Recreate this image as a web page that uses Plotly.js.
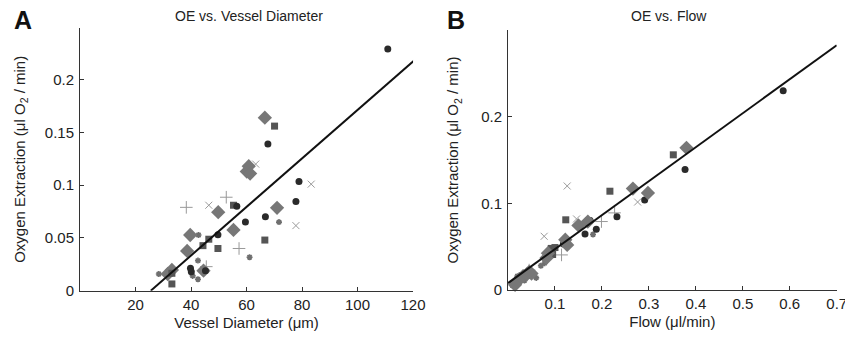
<!DOCTYPE html>
<html>
<head>
<meta charset="utf-8">
<script src="https://cdn.plot.ly/plotly-3.0.1.min.js"></script>
<style>html,body{margin:0;padding:0;background:#fff;}#chart{width:845px;height:339px;}</style>
</head>
<body>
<div id="chart"></div>
<script>
// ---------- Panel A: OE vs. Vessel Diameter ----------
const aCircleX = [110.9, 67.7, 78.9, 77.8, 66.8, 59.6, 49.7, 56.5, 39.8, 40.1, 45.2];
const aCircleY = [0.229, 0.139, 0.1035, 0.0845, 0.070, 0.065, 0.053, 0.080, 0.0212, 0.018, 0.019];
const aSquareX = [70.1, 55.3, 66.6, 49.7, 44.3, 46.4, 33.1, 33.1];
const aSquareY = [0.156, 0.081, 0.048, 0.040, 0.0427, 0.0488, 0.0064, 0.0165];
const aDiamondX = [66.6, 60.8, 60.1, 61.3, 49.8, 55.3, 71.0, 39.7, 38.6, 44.5, 31.6, 33.1];
const aDiamondY = [0.164, 0.118, 0.113, 0.111, 0.0744, 0.0576, 0.0785, 0.0528, 0.0377, 0.019, 0.0158, 0.0196];
const aCrossX = [63.3, 46.4, 83.3, 77.8];
const aCrossY = [0.120, 0.081, 0.101, 0.0617];
const aPlusX = [38.3, 52.7, 57.3, 45.5];
const aPlusY = [0.079, 0.0886, 0.040, 0.0228];
const aStarX = [71.7, 61.1, 42.7, 42.5, 42.5, 28.4, 40.6];
const aStarY = [0.065, 0.0317, 0.0528, 0.0285, 0.0108, 0.0158, 0.014];
const aFitSlope = 0.0023;      // ul O2/min per um
const aFitXIntercept = 25.5;   // um
const aFitXEnd = 120.5;

// ---------- Panel B: OE vs. Flow ----------
const bCircleX = [0.586, 0.377, 0.291, 0.232, 0.188, 0.164, 0.175, 0.118, 0.042, 0.048, 0.036];
const bCircleY = [0.230, 0.139, 0.104, 0.0846, 0.070, 0.0645, 0.080, 0.053, 0.019, 0.017, 0.016];
const bSquareX = [0.352, 0.217, 0.123, 0.172, 0.092, 0.100, 0.095, 0.012, 0.030];
const bSquareY = [0.156, 0.114, 0.081, 0.080, 0.048, 0.049, 0.041, 0.0066, 0.0165];
const bDiamondX = [0.380, 0.266, 0.298, 0.150, 0.170, 0.122, 0.126, 0.085, 0.082, 0.050, 0.032, 0.023, 0.040, 0.015, 0.045];
const bDiamondY = [0.164, 0.117, 0.112, 0.0745, 0.079, 0.058, 0.052, 0.0425, 0.037, 0.019, 0.016, 0.0116, 0.018, 0.006, 0.021];
const bCrossX = [0.126, 0.276, 0.146, 0.077];
const bCrossY = [0.120, 0.1015, 0.082, 0.062];
const bPlusX = [0.199, 0.227, 0.114, 0.045];
const bPlusY = [0.079, 0.089, 0.0405, 0.023];
const bStarX = [0.181, 0.078, 0.120, 0.070, 0.035, 0.020, 0.060];
const bStarY = [0.064, 0.031, 0.053, 0.028, 0.011, 0.016, 0.014];
const bFitSlope = 0.392;
const bFitIntercept = 0.008;
const bFitXEnd = 0.7;

const xTicksA = [20, 40, 60, 80, 100, 120];
const yTicksA = [0, 0.05, 0.1, 0.15, 0.2];
const yTickTextA = ['0', '0.05', '0.1', '0.15', '0.2'];
const xTicksB = [0.1, 0.2, 0.3, 0.4, 0.5, 0.6, 0.7];
const xTickTextB = ['0.1', '0.2', '0.3', '0.4', '0.5', '0.6', '0.7'];
const yTicksB = [0, 0.1, 0.2];
const yTickTextB = ['0', '0.1', '0.2'];

const FONT = 'Liberation Sans, Arial, Helvetica, sans-serif';

function markerTrace(x, y, xa, ya, marker) {
  return {x: x, y: y, xaxis: xa, yaxis: ya, type: 'scatter', mode: 'markers',
          cliponaxis: false, showlegend: false, hoverinfo: 'skip', marker: marker};
}
const mCircle = {symbol: 'circle', size: 7, color: '#2a2a2a'};
const mSquare = {symbol: 'square', size: 7, color: '#555555'};
const mDiamond = {symbol: 'diamond', size: 11, color: '#777777'};
const mCross = {symbol: 'x-thin-open', size: 7, color: '#9a9a9a', line: {color: '#9a9a9a', width: 1}};
const mPlus = {symbol: 'cross-thin-open', size: 9, color: '#999999', line: {color: '#999999', width: 1}};
const mStar = {symbol: 'asterisk-open', size: 5, color: '#6f6f6f', line: {color: '#6f6f6f', width: 1.6}};

const aFitX = [aFitXIntercept, aFitXEnd];
const aFitY = aFitX.map(v => aFitSlope * (v - aFitXIntercept));
const bFitX = [0, bFitXEnd];
const bFitY = bFitX.map(v => bFitIntercept + bFitSlope * v);

const data = [
  markerTrace(aStarX, aStarY, 'x', 'y', mStar),
  markerTrace(aPlusX, aPlusY, 'x', 'y', mPlus),
  markerTrace(aCrossX, aCrossY, 'x', 'y', mCross),
  markerTrace(aDiamondX, aDiamondY, 'x', 'y', mDiamond),
  markerTrace(aSquareX, aSquareY, 'x', 'y', mSquare),
  markerTrace(aCircleX, aCircleY, 'x', 'y', mCircle),
  {x: aFitX, y: aFitY, xaxis: 'x', yaxis: 'y', type: 'scatter', mode: 'lines', showlegend: false,
   hoverinfo: 'skip', line: {color: '#111', width: 2}},
  markerTrace(bStarX, bStarY, 'x2', 'y2', mStar),
  markerTrace(bPlusX, bPlusY, 'x2', 'y2', mPlus),
  markerTrace(bCrossX, bCrossY, 'x2', 'y2', mCross),
  markerTrace(bCircleX, bCircleY, 'x2', 'y2', mCircle),
  markerTrace(bSquareX, bSquareY, 'x2', 'y2', mSquare),
  markerTrace(bDiamondX, bDiamondY, 'x2', 'y2', mDiamond),
  {x: bFitX, y: bFitY, xaxis: 'x2', yaxis: 'y2', type: 'scatter', mode: 'lines', showlegend: false,
   hoverinfo: 'skip', line: {color: '#111', width: 2}}
];

const axisCommon = {
  showline: true, linecolor: '#333', linewidth: 1, showgrid: false, zeroline: false,
  ticks: 'inside', ticklen: 4, tickcolor: '#333', tickwidth: 1, ticklabeloverflow: 'allow',
  tickfont: {family: FONT, size: 15, color: '#222'}, automargin: false, fixedrange: true
};
const titleFont = {family: FONT, size: 15, color: '#222'};
const yTitle = 'Oxygen Extraction (μl O<sub>2</sub> / min)';

const layout = {
  width: 845, height: 339,
  margin: {l: 0, r: 0, t: 0, b: 0},
  paper_bgcolor: '#fff', plot_bgcolor: 'rgba(0,0,0,0)',
  font: {family: FONT, color: '#222'},
  xaxis: Object.assign({}, axisCommon, {
    domain: [0.0947, 0.4888], range: [0, 120.0001], anchor: 'y',
    tickmode: 'array', tickvals: xTicksA, ticktext: xTicksA.map(String),
    title: {text: 'Vessel Diameter (μm)', font: titleFont, standoff: 5}
  }),
  yaxis: Object.assign({}, axisCommon, {
    domain: [0.1425, 0.9174], range: [0, 0.249], anchor: 'x', ticklabelstandoff: 2,
    tickmode: 'array', tickvals: yTicksA, ticktext: yTickTextA,
    title: {text: yTitle, font: titleFont, standoff: 15}
  }),
  xaxis2: Object.assign({}, axisCommon, {
    domain: [0.6012, 0.9902], range: [0, 0.70001], anchor: 'y2',
    tickmode: 'array', tickvals: xTicksB, ticktext: xTickTextB,
    title: {text: 'Flow (μl/min)', font: titleFont, standoff: 5}
  }),
  yaxis2: Object.assign({}, axisCommon, {
    domain: [0.1445, 0.9115], range: [0, 0.3], anchor: 'x2', ticklabelstandoff: 2,
    tickmode: 'array', tickvals: yTicksB, ticktext: yTickTextB,
    title: {text: yTitle, font: titleFont, standoff: 18}
  }),
  annotations: [
    {text: 'OE vs. Vessel Diameter', xref: 'paper', yref: 'paper', x: 248.7 / 845, y: 1 - 16 / 339,
     xanchor: 'center', yanchor: 'middle', showarrow: false, font: {family: FONT, size: 14, color: '#222'}},
    {text: 'OE vs. Flow', xref: 'paper', yref: 'paper', x: 669 / 845, y: 1 - 16 / 339,
     xanchor: 'center', yanchor: 'middle', showarrow: false, font: {family: FONT, size: 14, color: '#222'}},
    {text: '<b>A</b>', xref: 'paper', yref: 'paper', x: 23 / 845, y: 1 - 20 / 339,
     xanchor: 'center', yanchor: 'middle', showarrow: false, font: {family: FONT, size: 25, color: '#111'}},
    {text: '<b>B</b>', xref: 'paper', yref: 'paper', x: 456 / 845, y: 1 - 20 / 339,
     xanchor: 'center', yanchor: 'middle', showarrow: false, font: {family: FONT, size: 25, color: '#111'}}
  ]
};

Plotly.newPlot('chart', data, layout, {staticPlot: true, displayModeBar: false});
</script>
</body>
</html>
